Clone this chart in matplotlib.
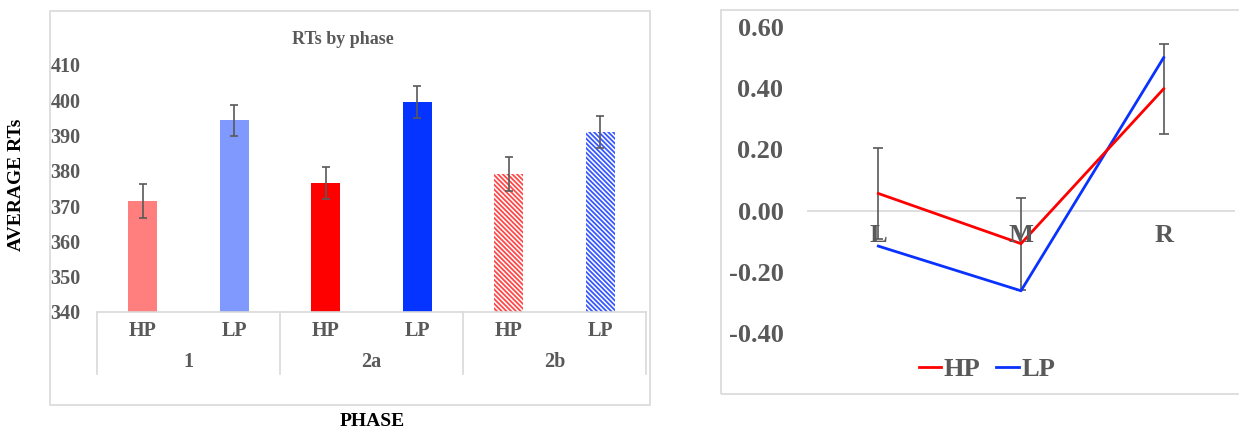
import matplotlib
matplotlib.use("Agg")
import matplotlib.pyplot as plt
from matplotlib.patches import Rectangle
import matplotlib.transforms as mtransforms

plt.rcParams['font.family'] = ['Liberation Serif', 'DejaVu Serif']
plt.rcParams['font.weight'] = 'bold'
plt.rcParams['hatch.linewidth'] = 1.3

GREY = '#595959'
FRAME = '#D9D9D9'

# left panel: mean RTs by phase
phases = ['1', '2a', '2b']
conditions = ['HP', 'LP']
rt_means = [371.5, 394.4, 376.6, 399.5, 379.1, 391.0]
rt_errs = [4.8, 4.4, 4.6, 4.6, 4.7, 4.6]
bar_colors = ['#FF7F7F', '#7F99FF', '#FF0000', '#0533FF', '#FF4848', '#3858FF']
bar_hatch = [None, None, None, None, '\\\\\\\\\\\\\\', '\\\\\\\\\\\\\\']

# right panel: HP / LP by position
positions = ['L', 'M', 'R']
hp_vals = [0.056, -0.108, 0.398]
lp_vals = [-0.116, -0.262, 0.50]
hp_errs = [0.148, 0.15, 0.148]

W, H = 1239, 429
fig = plt.figure(figsize=(W / 100, H / 100), dpi=100)

def px_rect(x0, y0, x1, y1):
    return [x0 / W, 1 - y1 / H, (x1 - x0) / W, (y1 - y0) / H]

# outer chart frames
for x0, y0, x1, y1 in [(50, 11, 650, 405), (721, 10, 1245, 394)]:
    fig.patches.append(Rectangle((x0 / W, 1 - y1 / H), (x1 - x0) / W, (y1 - y0) / H,
                                 transform=fig.transFigure, fill=False,
                                 edgecolor=FRAME, lw=1.2, zorder=0))

# ---- bar chart ----
ax = fig.add_axes(px_rect(97, 65, 646, 312))
xs = list(range(len(rt_means)))
for i in xs:
    if bar_hatch[i]:
        ax.bar(xs[i], rt_means[i] - 340, bottom=340, width=0.32, color='white',
               edgecolor=bar_colors[i], hatch=bar_hatch[i], linewidth=0)
    else:
        ax.bar(xs[i], rt_means[i] - 340, bottom=340, width=0.32,
               color=bar_colors[i], linewidth=0)
ax.errorbar(xs, rt_means, yerr=rt_errs, fmt='none', ecolor=GREY,
            elinewidth=1.2, capsize=3, capthick=1.2)
ax.set_xlim(-0.5, 5.5)
ax.set_ylim(340, 410)
ax.set_yticks(range(340, 411, 10))
ax.tick_params(axis='y', length=0, pad=12, labelsize=14.5, labelcolor=GREY)
ax.set_xticks([])
for s in ['top', 'right', 'left']:
    ax.spines[s].set_visible(False)
ax.spines['bottom'].set_color(FRAME)
ax.spines['bottom'].set_linewidth(1.2)

trans = mtransforms.blended_transform_factory(ax.transData, ax.transAxes)
for sx in [-0.5, 1.5, 3.5, 5.5]:
    ax.plot([sx, sx], [0, -0.251], transform=trans, color=FRAME, lw=1.2,
            clip_on=False)
for i in xs:
    ax.text(i, -0.077, conditions[i % 2], transform=trans, ha='center',
            va='center', fontsize=14.5, color=GREY, fontweight='bold')
for g, name in enumerate(phases):
    ax.text(2 * g + 0.5, -0.202, name, transform=trans, ha='center',
            va='center', fontsize=14.5, color=GREY, fontweight='bold')

fig.text(343 / W, 1 - 40 / H, 'RTs by phase', ha='center', va='center',
         fontsize=13, color=GREY, fontweight='bold')
fig.text(17 / W, 1 - 185 / H, 'AVERAGE RTs', rotation=90, ha='center',
         va='center', fontsize=14, color='black', fontweight='bold')
fig.text(372 / W, 1 - 421 / H, 'PHASE', ha='center', va='center',
         fontsize=14, color='black', fontweight='bold')

# ---- line chart ----
ax2 = fig.add_axes(px_rect(807, 27, 1235, 333))
px = list(range(len(positions)))
ax2.axhline(0, color=FRAME, lw=1.2, zorder=1)
ax2.errorbar(px, hp_vals, yerr=hp_errs, fmt='none', ecolor=GREY,
             elinewidth=1.2, capsize=3.5, capthick=1.2, zorder=2)
ax2.plot(px, lp_vals, color='#0A32FF', lw=2, label='LP', zorder=3)
ax2.plot(px, hp_vals, color='#FF0000', lw=2, label='HP', zorder=4)
ax2.set_xlim(-0.5, 2.5)
ax2.set_ylim(-0.4, 0.6)
ax2.set_yticks([-0.4, -0.2, 0, 0.2, 0.4, 0.6])
ax2.set_yticklabels(['-0.40', '-0.20', '0.00', '0.20', '0.40', '0.60'])
ax2.tick_params(axis='y', length=0, pad=17, labelsize=19, labelcolor=GREY)
ax2.set_xticks([])
for s in ax2.spines.values():
    s.set_visible(False)
for i, name in enumerate(positions):
    ax2.text(i, -0.083, name, ha='center', va='center', fontsize=19,
             color=GREY, fontweight='bold', zorder=5)

handles, labels = ax2.get_legend_handles_labels()
leg = fig.legend(handles[::-1], labels[::-1], loc='center',
                 bbox_to_anchor=(987 / W, 1 - 369 / H), ncol=2, frameon=False,
                 fontsize=19, handlelength=0.85, handletextpad=0.1,
                 columnspacing=0.6)
for t in leg.get_texts():
    t.set_color(GREY)

fig.savefig('out.png', dpi=100, facecolor='white')
